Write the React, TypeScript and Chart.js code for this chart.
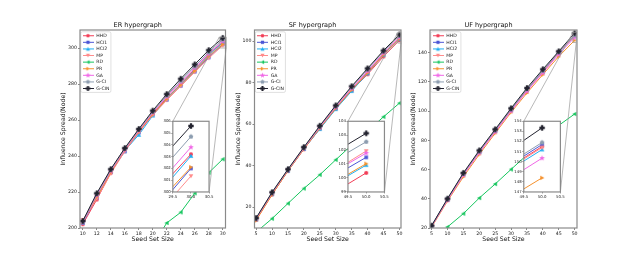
import React, { useEffect, useRef } from "react";
import { Chart, registerables } from "chart.js";

Chart.register(...registerables);

const FONT = "'DejaVu Sans', 'Liberation Sans', sans-serif";

// ---------- series meta ----------
const seriesNames = ["HHD", "HCI1", "HCI2", "MP", "RD", "PR", "GA", "G-CI", "G-CIN"];
const seriesColors = ["#f23c55", "#4b56d6", "#1faef2", "#ff8c8c", "#16c65e", "#f5912c", "#f067e6", "#8d9db0", "#23232f"];
const seriesMarkers = ["o", "s", "^", "v", "<", ">", "*", "p", "P"];
const markerSizes = [2.0, 2.0, 2.3, 2.3, 2.3, 2.3, 2.5, 2.3, 2.7];

// ---------- ER hypergraph ----------
const erSeeds = [10, 12, 14, 16, 18, 20, 22, 24, 26, 28, 30];
const erHHD = [202.1, 215.8, 230.6, 243.2, 253.6, 263.6, 272.3, 280.0, 288.2, 296.6, 303.2];
const erHCI1 = [203.1, 217.0, 231.1, 242.5, 253.0, 263.0, 271.2, 279.0, 286.9, 294.8, 302.0];
const erHCI2 = [203.0, 217.6, 231.4, 243.0, 251.7, 262.4, 272.0, 279.9, 287.7, 295.9, 303.05];
const erMP = [204.5, 216.3, 230.2, 242.6, 253.1, 262.7, 271.0, 278.8, 286.6, 294.35, 301.35];
const erRD = [150.0, 159.5, 167.8, 175.5, 183.2, 190.4, 202.8, 208.7, 219.3, 230.7, 238.2];
const erPR = [203.4, 217.3, 231.0, 243.3, 253.4, 263.2, 271.8, 279.6, 287.3, 295.5, 302.1];
const erGA = [203.2, 218.2, 231.7, 243.5, 254.0, 264.0, 272.9, 281.0, 289.0, 296.8, 303.8];
const erGCI = [203.6, 218.9, 232.3, 244.0, 254.5, 264.6, 273.6, 281.8, 289.8, 297.7, 304.7];
const erGCIN = [203.9, 219.3, 232.7, 244.4, 255.0, 265.2, 274.4, 282.9, 290.9, 298.8, 305.6];
const erXTicks = [10, 12, 14, 16, 18, 20, 22, 24, 26, 28, 30];
const erYTicks = [200, 220, 240, 260, 280, 300];
const erInsetXTicks = [29.5, 30.0, 30.5];
const erInsetYTicks = [300, 301, 302, 303, 304, 305, 306];

// ---------- SF hypergraph ----------
const sfSeeds = [5, 10, 15, 20, 25, 30, 35, 40, 45, 50];
const sfHHD = [13.9, 26.1, 37.4, 47.9, 57.8, 67.4, 76.2, 84.0, 92.55, 100.35];
const sfHCI1 = [14.2, 26.4, 37.7, 48.2, 58.2, 67.8, 76.7, 85.0, 93.95, 101.45];
const sfHCI2 = [14.1, 26.3, 37.6, 48.1, 57.6, 67.2, 75.9, 84.4, 93.4, 100.9];
const sfMP = [14.0, 26.5, 37.8, 48.3, 58.3, 68.0, 76.9, 85.2, 93.9, 101.9];
const sfRD = [8.0, 14.5, 21.8, 29.0, 35.6, 42.8, 49.9, 56.6, 63.5, 70.1];
const sfPR = [13.6, 26.0, 37.5, 48.0, 58.0, 67.6, 76.4, 84.6, 93.5, 101.0];
const sfGA = [14.3, 26.7, 37.9, 48.4, 58.5, 68.2, 77.2, 85.5, 94.25, 101.75];
const sfGCI = [14.6, 27.0, 38.1, 48.7, 58.9, 68.7, 77.8, 86.3, 95.0, 102.55];
const sfGCIN = [14.8, 27.2, 38.3, 48.9, 59.2, 69.0, 78.2, 86.8, 95.4, 103.15];
const sfXTicks = [5, 10, 15, 20, 25, 30, 35, 40, 45, 50];
const sfYTicks = [20, 40, 60, 80, 100];
const sfInsetXTicks = [49.5, 50.0, 50.5];
const sfInsetYTicks = [99, 100, 101, 102, 103, 104];

// ---------- UF hypergraph ----------
const ufSeeds = [5, 10, 15, 20, 25, 30, 35, 40, 45, 50];
const ufHHD = [21.2, 39.4, 56.8, 72.0, 86.4, 100.7, 114.4, 127.0, 140.1, 151.5];
const ufHCI1 = [21.3, 39.6, 57.0, 72.3, 86.7, 101.0, 114.7, 127.3, 140.2, 151.7];
const ufHCI2 = [21.1, 39.3, 56.6, 71.9, 86.3, 100.6, 114.3, 126.9, 139.8, 151.2];
const ufMP = [21.0, 39.2, 56.5, 71.8, 86.2, 100.5, 114.2, 126.8, 140.0, 151.4];
const ufRD = [10.0, 20.7, 29.8, 40.5, 50.1, 60.1, 70.0, 80.0, 90.2, 98.0];
const ufPR = [20.5, 38.4, 55.0, 70.3, 84.8, 99.1, 112.4, 125.0, 137.4, 148.4];
const ufGA = [20.9, 39.0, 56.2, 71.4, 85.8, 100.0, 113.6, 126.2, 138.9, 150.35];
const ufGCI = [21.4, 39.8, 57.2, 72.5, 86.9, 101.2, 115.0, 127.6, 140.4, 151.9];
const ufGCIN = [21.6, 40.1, 57.7, 73.1, 87.5, 101.9, 115.8, 128.6, 140.9, 153.35];
const ufXTicks = [5, 10, 15, 20, 25, 30, 35, 40, 45, 50];
const ufYTicks = [20, 40, 60, 80, 100, 120, 140];
const ufInsetXTicks = [49.5, 50.0, 50.5];
const ufInsetYTicks = [147, 148, 149, 150, 151, 152, 153, 154];

// ---------- layout ----------
const AREA_TOP = 30;
const AREA_BOTTOM = 228;
const CANVAS_H = 256;
const SIDE = 30;
const YLABEL_OFFSET = 16.5;
const AXIS_TITLE_SIZE = 6.2;
const TICK_SIZE = 4.7;
const TITLE_SIZE = 6.5;
const LEGEND_SIZE = 4.6;
const LEGEND_TOP_OFFSET = 31.4;
const INSET_TICK_SIZE = 3.9;
const INSET_FRAC = { left: 0.638, right: 0.887, top: 0.461, bottom: 0.818 };
const INSET_MARGIN = { left: 14, top: 4, right: 8, bottom: 10 };
const FRAME_COLOR = "#8a8a8a";
const TEXT_COLOR = "#222";

type PanelCfg = {
  title: string;
  seeds: number[];
  series: number[][];
  xTicks: number[];
  yTicks: number[];
  xRange: [number, number];
  yRange: [number, number];
  insetX: [number, number];
  insetY: [number, number];
  insetXTicks: number[];
  insetYTicks: number[];
  areaLeft: number;
  areaRight: number;
};

const panels: PanelCfg[] = [
  {
    title: "ER hypergraph",
    seeds: erSeeds,
    series: [erHHD, erHCI1, erHCI2, erMP, erRD, erPR, erGA, erGCI, erGCIN],
    xTicks: erXTicks,
    yTicks: erYTicks,
    xRange: [9.6, 30.4],
    yRange: [200, 310],
    insetX: [29.5, 30.5],
    insetY: [300, 306],
    insetXTicks: erInsetXTicks,
    insetYTicks: erInsetYTicks,
    areaLeft: 80,
    areaRight: 225.5,
  },
  {
    title: "SF hypergraph",
    seeds: sfSeeds,
    series: [sfHHD, sfHCI1, sfHCI2, sfMP, sfRD, sfPR, sfGA, sfGCI, sfGCIN],
    xTicks: sfXTicks,
    yTicks: sfYTicks,
    xRange: [4.5, 50.5],
    yRange: [10, 105.3],
    insetX: [49.5, 50.5],
    insetY: [99, 104],
    insetXTicks: sfInsetXTicks,
    insetYTicks: sfInsetYTicks,
    areaLeft: 254.5,
    areaRight: 401,
  },
  {
    title: "UF hypergraph",
    seeds: ufSeeds,
    series: [ufHHD, ufHCI1, ufHCI2, ufMP, ufRD, ufPR, ufGA, ufGCI, ufGCIN],
    xTicks: ufXTicks,
    yTicks: ufYTicks,
    xRange: [4.5, 50.75],
    yRange: [20, 155.5],
    insetX: [49.5, 50.5],
    insetY: [147, 154],
    insetXTicks: ufInsetXTicks,
    insetYTicks: ufInsetYTicks,
    areaLeft: 430,
    areaRight: 577,
  },
];

// ---------- marker helpers ----------
function markerPath(ctx: CanvasRenderingContext2D, shape: string, cx: number, cy: number, r: number) {
  ctx.beginPath();
  const poly = (n: number, rot: number, rad: number) => {
    for (let k = 0; k < n; k++) {
      const a = rot + (k * 2 * Math.PI) / n;
      const px = cx + rad * Math.cos(a);
      const py = cy + rad * Math.sin(a);
      if (k === 0) ctx.moveTo(px, py);
      else ctx.lineTo(px, py);
    }
    ctx.closePath();
  };
  switch (shape) {
    case "o":
      ctx.arc(cx, cy, r, 0, Math.PI * 2);
      break;
    case "s":
      ctx.rect(cx - r * 0.9, cy - r * 0.9, r * 1.8, r * 1.8);
      break;
    case "^":
      ctx.moveTo(cx, cy - r);
      ctx.lineTo(cx + r, cy + r * 0.8);
      ctx.lineTo(cx - r, cy + r * 0.8);
      ctx.closePath();
      break;
    case "v":
      ctx.moveTo(cx, cy + r);
      ctx.lineTo(cx + r, cy - r * 0.8);
      ctx.lineTo(cx - r, cy - r * 0.8);
      ctx.closePath();
      break;
    case "<":
      ctx.moveTo(cx - r, cy);
      ctx.lineTo(cx + r * 0.8, cy - r);
      ctx.lineTo(cx + r * 0.8, cy + r);
      ctx.closePath();
      break;
    case ">":
      ctx.moveTo(cx + r, cy);
      ctx.lineTo(cx - r * 0.8, cy - r);
      ctx.lineTo(cx - r * 0.8, cy + r);
      ctx.closePath();
      break;
    case "*":
      for (let k = 0; k < 10; k++) {
        const a = -Math.PI / 2 + (k * Math.PI) / 5;
        const rad = k % 2 === 0 ? r * 1.2 : r * 0.5;
        const px = cx + rad * Math.cos(a);
        const py = cy + rad * Math.sin(a);
        if (k === 0) ctx.moveTo(px, py);
        else ctx.lineTo(px, py);
      }
      ctx.closePath();
      break;
    case "p":
      poly(5, -Math.PI / 2, r * 1.05);
      break;
    case "P": {
      const a = r;
      const b = r * 0.42;
      const pts = [
        [-b, -a], [b, -a], [b, -b], [a, -b], [a, b], [b, b],
        [b, a], [-b, a], [-b, b], [-a, b], [-a, -b], [-b, -b],
      ];
      pts.forEach(([px, py], k) => {
        if (k === 0) ctx.moveTo(cx + px, cy + py);
        else ctx.lineTo(cx + px, cy + py);
      });
      ctx.closePath();
      break;
    }
    default:
      ctx.arc(cx, cy, r, 0, Math.PI * 2);
  }
}

function markerImage(shape: string, color: string, r: number) {
  const c = document.createElement("canvas");
  c.width = 8;
  c.height = 8;
  const ctx = c.getContext("2d")!;
  ctx.fillStyle = color;
  markerPath(ctx, shape, 4, 4, r);
  ctx.fill();
  return c;
}

function legendIcon(shape: string, color: string, r: number) {
  const c = document.createElement("canvas");
  c.width = 11;
  c.height = 7;
  const ctx = c.getContext("2d")!;
  ctx.strokeStyle = color;
  ctx.lineWidth = 1;
  ctx.beginPath();
  ctx.moveTo(0, 3.5);
  ctx.lineTo(11, 3.5);
  ctx.stroke();
  ctx.fillStyle = color;
  markerPath(ctx, shape, 5.5, 3.5, r * 0.9);
  ctx.fill();
  return c;
}

function buildDatasets(cfg: PanelCfg, markers: HTMLCanvasElement[]) {
  return cfg.series.map((vals, i) => ({
    label: seriesNames[i],
    data: cfg.seeds.map((s, j) => ({ x: s, y: vals[j] })),
    borderColor: seriesColors[i],
    backgroundColor: seriesColors[i],
    borderWidth: 1,
    pointStyle: markers[i],
    pointRadius: 2.5,
    pointHoverRadius: 2.5,
    order: seriesNames.length - i,
    tension: 0,
    fill: false,
  }));
}

function Panel({ cfg }: { cfg: PanelCfg }) {
  const mainRef = useRef<HTMLCanvasElement | null>(null);
  const insetRef = useRef<HTMLCanvasElement | null>(null);
  const canvasLeft = Math.floor(cfg.areaLeft - SIDE);
  const canvasWidth = Math.ceil(cfg.areaRight + SIDE) - canvasLeft;

  useEffect(() => {
    const mainCanvas = mainRef.current!;
    const insetCanvas = insetRef.current!;
    const markers = seriesMarkers.map((m, i) => markerImage(m, seriesColors[i], markerSizes[i]));
    const icons = seriesMarkers.map((m, i) => legendIcon(m, seriesColors[i], markerSizes[i]));

    const yAxisW = cfg.areaLeft - canvasLeft;
    const rightPad = canvasLeft + canvasWidth - cfg.areaRight;
    const titleLH = TITLE_SIZE * 1.2;
    const titlePadTop = AREA_TOP - 5 - titleLH / 2;
    const titlePadBottom = AREA_TOP - titlePadTop - titleLH;
    const axisLH = AXIS_TITLE_SIZE * 1.2;
    const yTitlePad = cfg.areaLeft - YLABEL_OFFSET - canvasLeft - axisLH / 2;
    const xTitlePad = CANVAS_H - 239.3 - axisLH / 2;

    const insetBox = (a: any) => ({
      left: a.left + INSET_FRAC.left * (a.right - a.left),
      right: a.left + INSET_FRAC.right * (a.right - a.left),
      top: a.top + INSET_FRAC.top * (a.bottom - a.top),
      bottom: a.top + INSET_FRAC.bottom * (a.bottom - a.top),
    });

    const mainDeco = {
      id: "mainDeco",
      beforeDraw(chart: any) {
        const lg = chart.legend;
        const hb = lg && lg.legendHitBoxes;
        if (!hb || !hb.length) return;
        let l = Infinity, r = -Infinity, t = Infinity, b = -Infinity;
        hb.forEach((h: any) => {
          l = Math.min(l, h.left);
          r = Math.max(r, h.left + h.width);
          t = Math.min(t, h.top);
          b = Math.max(b, h.top + h.height);
        });
        const ctx = chart.ctx;
        ctx.save();
        ctx.beginPath();
        ctx.roundRect(l - 1.2, t - 1.6, r - l + 2.6, b - t + 3.2, 1.5);
        ctx.fillStyle = "rgba(255,255,255,0.9)";
        ctx.fill();
        ctx.strokeStyle = "#d2d2d2";
        ctx.lineWidth = 0.7;
        ctx.stroke();
        ctx.restore();
      },
      afterDraw(chart: any) {
        const { ctx, chartArea: a } = chart;
        const xs = chart.scales.x;
        const ys = chart.scales.y;
        ctx.save();
        const rx0 = xs.getPixelForValue(cfg.insetX[0]);
        const rx1 = xs.getPixelForValue(cfg.insetX[1]);
        const ry0 = ys.getPixelForValue(cfg.insetY[0]);
        const ry1 = ys.getPixelForValue(cfg.insetY[1]);
        const box = insetBox(a);
        ctx.strokeStyle = "#9a9a9a";
        ctx.lineWidth = 0.7;
        ctx.strokeRect(rx0, ry1, rx1 - rx0, ry0 - ry1);
        ctx.beginPath();
        ctx.moveTo(box.left, box.top);
        ctx.lineTo(rx0, ry1);
        ctx.moveTo(box.right, box.bottom);
        ctx.lineTo(rx1, ry0);
        ctx.stroke();
        ctx.strokeStyle = FRAME_COLOR;
        ctx.lineWidth = 1.2;
        ctx.strokeRect(a.left, a.top, a.right - a.left, a.bottom - a.top);
        ctx.restore();
      },
    };

    const main = new Chart(mainCanvas, {
      type: "line",
      data: { datasets: buildDatasets(cfg, markers) as any },
      options: {
        responsive: false,
        animation: false,
        devicePixelRatio: 1,
        events: [],
        layout: { padding: { left: 0, right: rightPad, top: 0, bottom: 0 } },
        scales: {
          x: {
            type: "linear",
            min: cfg.xRange[0],
            max: cfg.xRange[1],
            afterBuildTicks: (s: any) => {
              s.ticks = cfg.xTicks.map((v) => ({ value: v }));
            },
            afterFit: (s: any) => {
              s.height = CANVAS_H - AREA_BOTTOM;
            },
            ticks: {
              autoSkip: false,
              maxRotation: 0,
              minRotation: 0,
              padding: 1,
              color: TEXT_COLOR,
              font: { family: FONT, size: TICK_SIZE },
              callback: (v: any) => String(v),
            },
            grid: { display: true, drawOnChartArea: false, drawTicks: true, tickLength: 2, color: "#555", lineWidth: 0.7 },
            border: { display: false },
            title: {
              display: true,
              text: "Seed Set Size",
              color: "#111",
              font: { family: FONT, size: AXIS_TITLE_SIZE },
              padding: { top: 0, bottom: xTitlePad },
            },
          },
          y: {
            type: "linear",
            min: cfg.yRange[0],
            max: cfg.yRange[1],
            afterBuildTicks: (s: any) => {
              s.ticks = cfg.yTicks.map((v) => ({ value: v }));
            },
            afterFit: (s: any) => {
              s.width = yAxisW;
            },
            ticks: {
              autoSkip: false,
              padding: 1,
              color: TEXT_COLOR,
              font: { family: FONT, size: TICK_SIZE },
              callback: (v: any) => String(v),
            },
            grid: { display: true, drawOnChartArea: false, drawTicks: true, tickLength: 2, color: "#555", lineWidth: 0.7 },
            border: { display: false },
            title: {
              display: true,
              text: "Influence Spread(Node)",
              color: "#111",
              font: { family: FONT, size: AXIS_TITLE_SIZE },
              padding: { top: yTitlePad, bottom: 0 },
            },
          },
        },
        plugins: {
          title: {
            display: true,
            text: cfg.title,
            color: "#111",
            font: { family: FONT, size: TITLE_SIZE, weight: "normal" },
            padding: { top: titlePadTop, bottom: titlePadBottom },
          },
          legend: {
            display: true,
            position: "chartArea",
            align: "start",
            title: { display: true, text: "", padding: { top: LEGEND_TOP_OFFSET - 1.44, bottom: 0 }, font: { size: 1.2 } },
            labels: {
              usePointStyle: true,
              pointStyleWidth: 12,
              boxHeight: LEGEND_SIZE,
              padding: 2,
              color: TEXT_COLOR,
              font: { family: FONT, size: LEGEND_SIZE },
              generateLabels: (chart: any) =>
                chart.data.datasets.map((ds: any, i: number) => ({
                  text: ds.label,
                  pointStyle: icons[i],
                  fillStyle: ds.borderColor,
                  strokeStyle: ds.borderColor,
                  fontColor: TEXT_COLOR,
                  lineWidth: 0,
                  hidden: false,
                  datasetIndex: i,
                })),
            },
          },
          tooltip: { enabled: false },
        },
      } as any,
      plugins: [mainDeco],
    });

    // ----- inset -----
    const box = insetBox(main.chartArea);
    const pL = canvasLeft + box.left;
    const pR = canvasLeft + box.right;
    const pT = box.top;
    const pB = box.bottom;
    const iLeft = Math.floor(pL - INSET_MARGIN.left);
    const iTop = Math.floor(pT - INSET_MARGIN.top);
    const iW = Math.ceil(pR + INSET_MARGIN.right) - iLeft;
    const iH = Math.ceil(pB + INSET_MARGIN.bottom) - iTop;
    insetCanvas.width = iW;
    insetCanvas.height = iH;
    insetCanvas.style.left = iLeft + "px";
    insetCanvas.style.top = iTop + "px";
    insetCanvas.style.width = iW + "px";
    insetCanvas.style.height = iH + "px";

    const insetDeco = {
      id: "insetDeco",
      beforeDraw(chart: any) {
        const { ctx, chartArea: a } = chart;
        ctx.save();
        ctx.fillStyle = "#ffffff";
        ctx.fillRect(a.left, a.top, a.right - a.left, a.bottom - a.top);
        ctx.restore();
      },
      afterDraw(chart: any) {
        const { ctx, chartArea: a } = chart;
        ctx.save();
        ctx.strokeStyle = FRAME_COLOR;
        ctx.lineWidth = 1.2;
        ctx.strokeRect(a.left, a.top, a.right - a.left, a.bottom - a.top);
        ctx.restore();
      },
    };

    const inset = new Chart(insetCanvas, {
      type: "line",
      data: { datasets: buildDatasets(cfg, markers) as any },
      options: {
        responsive: false,
        animation: false,
        devicePixelRatio: 1,
        events: [],
        layout: { padding: { left: 0, top: pT - iTop, right: iLeft + iW - pR, bottom: 0 } },
        scales: {
          x: {
            type: "linear",
            min: cfg.insetX[0],
            max: cfg.insetX[1],
            afterBuildTicks: (s: any) => {
              s.ticks = cfg.insetXTicks.map((v) => ({ value: v }));
            },
            afterFit: (s: any) => {
              s.height = iTop + iH - pB;
            },
            ticks: {
              autoSkip: false,
              maxRotation: 0,
              minRotation: 0,
              padding: 0.8,
              color: TEXT_COLOR,
              font: { family: FONT, size: INSET_TICK_SIZE },
              callback: (v: any) => Number(v).toFixed(1),
            },
            grid: { display: true, drawOnChartArea: false, drawTicks: true, tickLength: 1.5, color: "#555", lineWidth: 0.6 },
            border: { display: false },
          },
          y: {
            type: "linear",
            min: cfg.insetY[0],
            max: cfg.insetY[1],
            afterBuildTicks: (s: any) => {
              s.ticks = cfg.insetYTicks.map((v) => ({ value: v }));
            },
            afterFit: (s: any) => {
              s.width = pL - iLeft;
            },
            ticks: {
              autoSkip: false,
              padding: 0.5,
              color: TEXT_COLOR,
              font: { family: FONT, size: INSET_TICK_SIZE },
              callback: (v: any) => String(v),
            },
            grid: { display: true, drawOnChartArea: false, drawTicks: true, tickLength: 1.5, color: "#555", lineWidth: 0.6 },
            border: { display: false },
          },
        },
        plugins: {
          legend: { display: false },
          title: { display: false },
          tooltip: { enabled: false },
        },
      } as any,
      plugins: [insetDeco],
    });

    return () => {
      main.destroy();
      inset.destroy();
    };
  }, [cfg, canvasLeft, canvasWidth]);

  return (
    <>
      <canvas
        ref={mainRef}
        width={canvasWidth}
        height={CANVAS_H}
        style={{ position: "absolute", left: canvasLeft, top: 0, width: canvasWidth, height: CANVAS_H }}
      />
      <canvas ref={insetRef} style={{ position: "absolute", left: 0, top: 0 }} />
    </>
  );
}

export default function App() {
  return (
    <div
      style={{
        position: "fixed",
        left: 0,
        top: 0,
        width: 640,
        height: 256,
        background: "#ffffff",
        overflow: "hidden",
      }}
    >
      {panels.map((p) => (
        <Panel key={p.title} cfg={p} />
      ))}
    </div>
  );
}
